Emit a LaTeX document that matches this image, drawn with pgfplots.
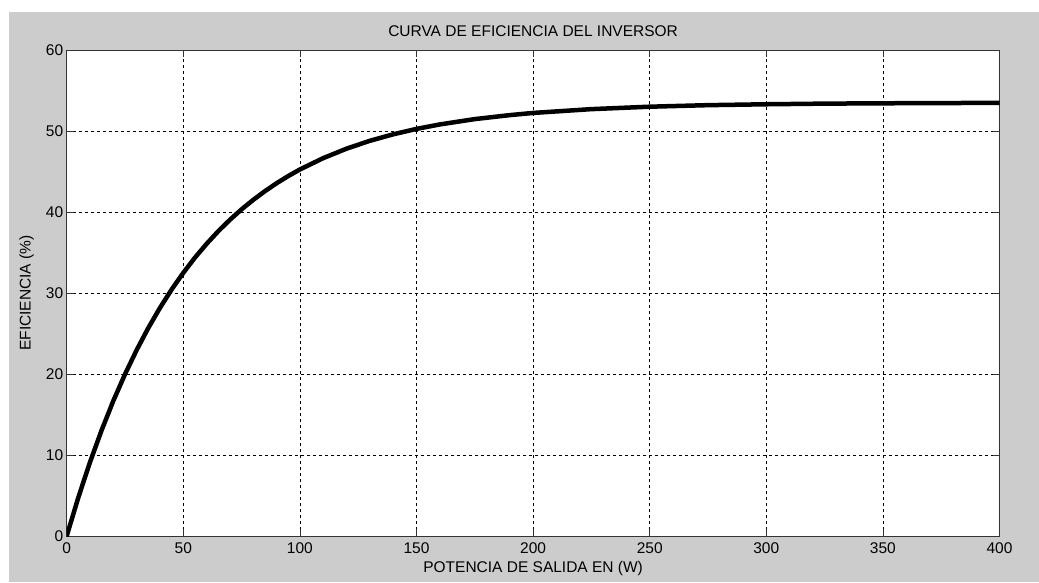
\documentclass[border=0pt]{standalone}
\usepackage{pgfplots}
\pgfplotsset{compat=1.18}
\usepackage{fontspec}
\setmainfont{Liberation Sans}
\definecolor{figgray}{RGB}{204,204,204}
\begin{document}
\begin{tikzpicture}[x=1pt,y=1pt]
\useasboundingbox (0,0) rectangle (1039,582);
\fill[white] (0,0) rectangle (1039,582);
\fill[figgray] (9,0) rectangle (1039,570);
\begin{axis}[
    at={(66.7pt,46pt)}, anchor=south west,
    scale only axis,
    width=932.8pt, height=486pt,
    xmin=0, xmax=400, ymin=0, ymax=60,
    xtick={0,50,...,400}, ytick={0,10,...,60},
    axis background/.style={fill=white},
    axis line style={black!80, line width=0.8pt},
    tick align=inside, major tick length=7pt,
    tick style={black!80, line width=0.8pt},
    xmajorgrids, ymajorgrids,
    grid style={black, line width=0.8pt, dash pattern=on 3pt off 3pt},
    font=\fontsize{15.5}{17}\selectfont,
    /pgf/number format/assume math mode=true,
    title={CURVA DE EFICIENCIA DEL INVERSOR},
    title style={at={(axis description cs:0.5,1)}, anchor=south, yshift=4pt},
    xlabel={POTENCIA DE SALIDA EN (W)},
    ylabel={EFICIENCIA (\%)},
    xlabel style={at={(axis description cs:0.5,-0.066)}, anchor=center},
    ylabel style={at={(axis description cs:-0.0429,0.5)}, anchor=center},
    xticklabel style={yshift=-3pt},
  ]
  \addplot[black, line width=4.5pt, line join=round, line cap=round] coordinates {
    (0,0) (5,4.77) (10,9.12) (15,13.08) (20,16.69) (25,19.97) (30,22.96)
    (35,25.69) (40,28.17) (45,30.43) (50,32.49) (55,34.37) (60,36.07)
    (65,37.63) (70,39.04) (75,40.33) (80,41.50) (85,42.57) (90,43.55)
    (95,44.44) (100,45.25) (110,46.65) (120,47.82) (130,48.79) (140,49.59)
    (150,50.26) (160,50.81) (175,51.47) (190,51.96) (200,52.23) (225,52.70)
    (250,53.00) (275,53.19) (300,53.30) (325,53.38) (350,53.42) (375,53.45)
    (400,53.47)
  };
\end{axis}
\end{tikzpicture}
\end{document}
